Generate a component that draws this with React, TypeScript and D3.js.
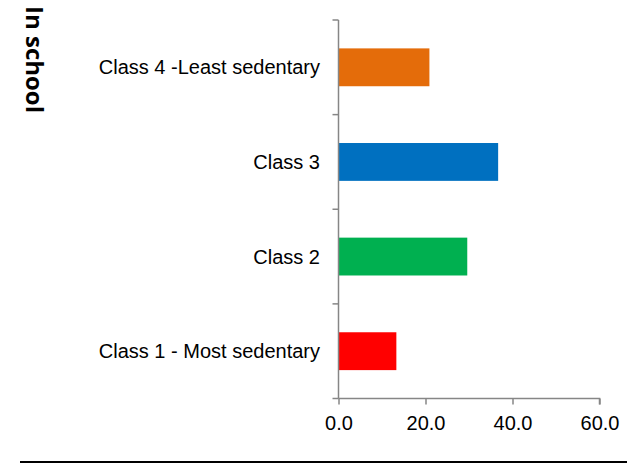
import React, { useEffect, useRef } from 'react'
import * as d3 from 'd3'

const categories = ['Class 1 - Most sedentary', 'Class 2', 'Class 3', 'Class 4 -Least sedentary']
const values = [13.3, 29.6, 36.7, 20.9]
const colors = ['#FF0000', '#00B050', '#0070C0', '#E46C0A']
const xTicks = [0, 20, 40, 60]
const sideTitle = 'In school'

const W = 636
const H = 464
const AXIS = '#868686'

export default function App() {
  const ref = useRef<SVGSVGElement>(null)

  useEffect(() => {
    if (!ref.current) return
    const svg = d3.select(ref.current)
    svg.selectAll('*').remove()

    const x = d3.scaleLinear().domain([0, 60]).range([338.5, 599.5])
    // Class 4 at the top
    const y = d3.scaleBand<string>()
      .domain([...categories].reverse())
      .range([20, 398.5])
      .paddingInner(0.6)
      .paddingOuter(0.3)

    const step = y.step()
    const [y0, y1] = y.range()

    // bars
    svg.append('g')
      .selectAll('rect')
      .data(categories)
      .join('rect')
      .attr('x', x(0))
      .attr('y', d => y(d)!)
      .attr('width', (d, i) => x(values[i]) - x(0))
      .attr('height', y.bandwidth())
      .attr('fill', (d, i) => colors[i])

    // y axis line + ticks between categories
    const ya = svg.append('g')
    ya.append('line')
      .attr('x1', x(0)).attr('x2', x(0))
      .attr('y1', y0).attr('y2', y1)
      .attr('stroke', AXIS).attr('stroke-width', 1.5)
    d3.range(categories.length + 1).forEach(i => {
      const ty = y0 + i * step
      ya.append('line')
        .attr('x1', x(0) - 6).attr('x2', x(0))
        .attr('y1', ty).attr('y2', ty)
        .attr('stroke', AXIS).attr('stroke-width', 1.5)
    })
    ya.selectAll('text.cat')
      .data(categories)
      .join('text')
      .attr('class', 'cat')
      .attr('x', 320)
      .attr('y', d => y(d)! + y.bandwidth() / 2)
      .attr('dy', '0.35em')
      .attr('text-anchor', 'end')
      .attr('font-family', 'Liberation Sans, Arial, sans-serif')
      .attr('font-size', 20)
      .attr('fill', '#000')
      .text(d => d)

    // x axis
    const xa = svg.append('g')
      .attr('transform', `translate(0,${y1})`)
      .call(d3.axisBottom(x).tickValues(xTicks).tickSize(6).tickPadding(11).tickFormat(d3.format('.1f')))
    xa.select('.domain').attr('stroke', AXIS).attr('stroke-width', 1.5)
      .attr('d', `M${x(0)},0H${x(60)}V6`)
    xa.selectAll('.tick line').attr('stroke', AXIS).attr('stroke-width', 1.5)
    xa.selectAll('.tick text')
      .attr('font-family', 'Liberation Sans, Arial, sans-serif')
      .attr('font-size', 20)
      .attr('fill', '#000')

    // rotated side title
    svg.append('text')
      .attr('transform', 'translate(26,6) rotate(90)')
      .attr('text-anchor', 'start')
      .attr('font-family', 'Open Sans, Noto Sans, sans-serif')
      .attr('font-weight', 700)
      .attr('font-size', 24)
      .attr('fill', '#000')
      .text(sideTitle)

    // bottom rule
    svg.append('line')
      .attr('x1', 20).attr('x2', 627)
      .attr('y1', 462).attr('y2', 462)
      .attr('stroke', '#000').attr('stroke-width', 2)
  }, [])

  return (
    <svg
      ref={ref}
      width={W}
      height={H}
      style={{ position: 'absolute', left: 0, top: 0, background: '#fff' }}
    />
  )
}
